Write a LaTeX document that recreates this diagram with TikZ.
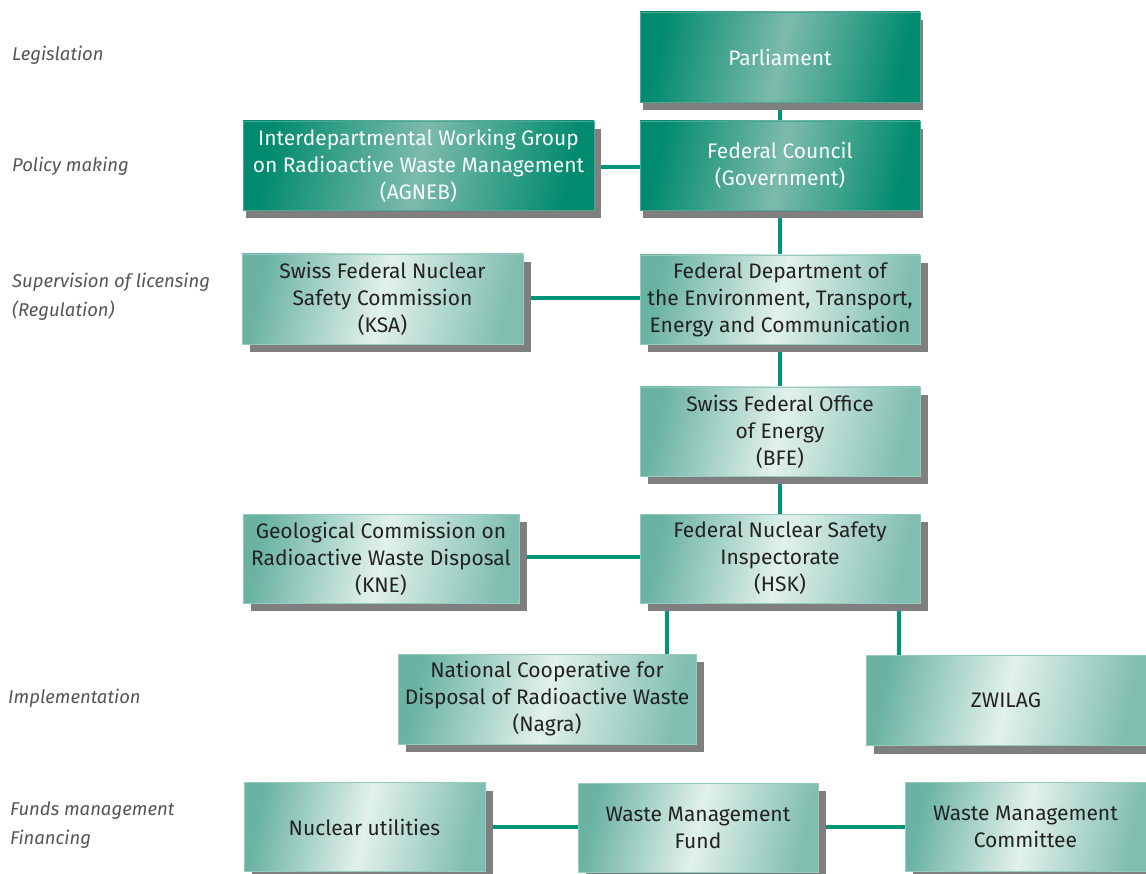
\documentclass[tikz,border=0pt]{standalone}
\usepackage{fontspec}
\setmainfont{Fira Sans}
\usetikzlibrary{shadows}
\definecolor{dkedge}{HTML}{008A6E}
\definecolor{dkmid}{HTML}{7DBBAB}
\definecolor{ltedge}{HTML}{6AB3A2}
\definecolor{ltmid}{HTML}{E2F1EC}
\definecolor{linecol}{HTML}{009479}
\definecolor{shadowcol}{HTML}{7F7F80}
\definecolor{labelcol}{HTML}{555555}
\definecolor{txtcol}{HTML}{222222}
\begin{document}
\begin{tikzpicture}[x=1pt,y=-1pt,
  box/.style={inner sep=0pt, outer sep=0pt, align=center,
    font=\fontsize{21}{27}\selectfont},
  dbox/.style={box, draw=dkmid!60!dkedge, line width=0.8pt, text=white!95!dkmid,
    left color=dkedge, right color=dkedge, middle color=dkmid, shading angle=78,
    drop shadow={shadow xshift=3pt, shadow yshift=-8pt, fill=shadowcol, opacity=1}},
  lbox/.style={box, draw=ltedge!70!white, line width=0.8pt, text=txtcol,
    left color=ltedge, right color=ltedge!85!white, middle color=ltmid, shading angle=78,
    drop shadow={shadow xshift=8pt, shadow yshift=-8pt, fill=shadowcol, opacity=1}},
  conn/.style={draw=linecol, line width=4pt},
  lab/.style={anchor=west, inner sep=0pt, text=labelcol,
    font=\fontsize{18.5}{29}\selectfont\itshape, align=left}]
\useasboundingbox (0,0) rectangle (1146,874);

% left labels
\node[lab] (l1) at (12,55) {Legislation};
\node[lab] (l2) at (12,166) {Policy making};
\node[lab] (l3) at (12,297) {Supervision of licensing\\(Regulation)};
\node[lab] (l4) at (8,698) {Implementation};
\node[lab] (l5) at (10,825) {Funds management\\Financing};

% connectors (drawn first, behind boxes)
\coordinate (pc) at (780,57);
\coordinate (cc) at (780,165.5);
\coordinate (dc) at (780,299.5);
\coordinate (bc) at (780,431.5);
\coordinate (hc) at (780,558.5);
\draw[conn] (pc) -- (hc);
\coordinate (ag) at (418,167);
\draw[conn] (ag) -- (cc |- ag);
\coordinate (ks) at (382,298);
\draw[conn] (ks) -- (dc |- ks);
\coordinate (kn) at (381,557);
\draw[conn] (kn) -- (hc |- kn);
\coordinate (na) at (667,699);
\draw[conn] (na |- hc) -- (na);
\coordinate (zw) at (899,700);
\draw[conn] (zw |- hc) -- (zw);
\coordinate (nu) at (364.5,827);
\coordinate (co) at (1025.5,827);
\draw[conn] (nu) -- (co);

% boxes
\node[dbox, minimum width=280pt, minimum height=90pt] (parl) at (pc) {Parliament};
\node[dbox, minimum width=280pt, minimum height=89pt] (council) at (cc) {Federal Council\\(Government)};
\node[dbox, minimum width=351pt, minimum height=89pt, drop shadow={shadow xshift=7pt, shadow yshift=-8pt, fill=shadowcol, opacity=1}] (agneb) at (418.5,165.5) {Interdepartmental Working Group\\on Radioactive Waste Management\\(AGNEB)};
\node[lbox, minimum width=280pt, minimum height=89pt] (dept) at (dc) {Federal Department of\\the Environment, Transport,\\Energy and Communication};
\node[lbox, minimum width=281pt, minimum height=90pt] (ksa) at (382.5,299) {Swiss Federal Nuclear\\Safety Commission\\(KSA)};
\node[lbox, minimum width=280pt, minimum height=89pt] (bfe) at (bc) {Swiss Federal Office\\of Energy\\(BFE)};
\node[lbox, minimum width=280pt, minimum height=89pt] (hsk) at (hc) {Federal Nuclear Safety\\Inspectorate\\(HSK)};
\node[lbox, minimum width=276pt, minimum height=89pt] (kne) at (381,558.5) {Geological Commission on\\Radioactive Waste Disposal\\(KNE)};
\node[lbox, minimum width=298pt, minimum height=90pt] (nagra) at (547,699) {National Cooperative for\\Disposal of Radioactive Waste\\(Nagra)};
\node[lbox, minimum width=280pt, minimum height=90pt] (zwilag) at (1006,700.5) {ZWILAG};
\node[lbox, minimum width=241pt, minimum height=89pt] (nuc) at (nu) {Nuclear utilities};
\node[lbox, minimum width=240pt, minimum height=89pt] (fund) at (698,827.5) {Waste Management\\Fund};
\node[lbox, minimum width=241pt, minimum height=89pt] (comm) at (co) {Waste Management\\Committee};
\end{tikzpicture}
\end{document}
